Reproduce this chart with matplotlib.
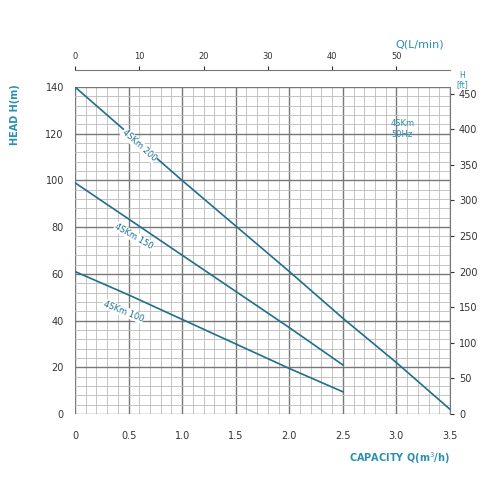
import numpy as np
import matplotlib.pyplot as plt

# flow in m3/h, head in m
q = [0, 0.5, 1.0, 1.5, 2.0, 2.5, 3.0, 3.5]
h200 = [140, 120, 100, 80.5, 61, 41, 22, 2]
q_short = [0, 0.5, 1.0, 1.5, 2.0, 2.5]
h150 = [99, 83.5, 68, 52.5, 37, 21]
h100 = [61, 51, 40.5, 30, 19.5, 9.5]
curve_labels = ["4SKm 200", "4SKm 150", "4SKm 100"]

blue = "#1f6f8b"
label_blue = "#2a8fb0"

fig = plt.figure(figsize=(5, 5), dpi=100)
ax = fig.add_axes([0.15, 0.172, 0.75, 0.654])
ax.set_xlim(0, 3.5)
ax.set_ylim(0, 140)

ax.set_xticks(np.arange(0, 3.51, 0.5))
ax.set_xticklabels(["0", "0.5", "1.0", "1.5", "2.0", "2.5", "3.0", "3.5"])
ax.set_yticks(np.arange(0, 141, 20))
ax.set_xticks(np.arange(0, 3.51, 0.1), minor=True)
ax.set_yticks(np.arange(0, 141, 4), minor=True)
ax.grid(which="major", color="#777777", lw=1.0)
ax.grid(which="minor", color="#bbbbbb", lw=0.6)
for s in ax.spines.values():
    s.set_visible(False)
ax.tick_params(which="both", length=0, labelsize=7, colors="#333333", pad=12)
ax.tick_params(axis="y", pad=8)
ax.set_axisbelow(True)

ax.plot(q, h200, color=blue, lw=1.2)
ax.plot(q_short, h150, color=blue, lw=1.2)
ax.plot(q_short, h100, color=blue, lw=1.2)

for (x, y, rot), t in zip([(0.6, 115, -42), (0.55, 76, -30), (0.45, 44, -22)], curve_labels):
    ax.text(x, y, t, rotation=rot, fontsize=6, color=blue, ha="center", va="center",
            bbox=dict(fc="white", ec="none", pad=0.5))
ax.text(2.95, 122, "4SKm\n50Hz", fontsize=6, color=label_blue, va="center")

# top axis: L/min
top = ax.secondary_xaxis("top", functions=(lambda x: x * 1000 / 60, lambda x: x * 60 / 1000))
top.spines["top"].set_position(("outward", 12))
top.spines["top"].set_color("#777777")
top.set_xticks(np.arange(0, 51, 10))
top.tick_params(labelsize=6, colors="#333333", length=3)
fig.text(0.84, 0.905, "Q(L/min)", fontsize=8, color=label_blue, ha="center")

# right axis: ft
right = ax.secondary_yaxis("right", functions=(lambda y: y * 3.281, lambda y: y / 3.281))
right.spines["right"].set_color("#777777")
right.set_yticks(np.arange(0, 451, 50))
right.tick_params(labelsize=7, colors="#333333", length=3)
fig.text(0.925, 0.84, "H\n[ft]", fontsize=5.5, color=label_blue, ha="center", va="center", linespacing=0.9)

fig.text(0.03, 0.77, "HEAD H(m)", rotation=90, fontsize=7, color=label_blue, ha="center", va="center", fontweight="bold")
fig.text(0.9, 0.075, "CAPACITY Q(m$^3$/h)", fontsize=7, color=label_blue, ha="right", fontweight="bold")

fig.savefig("out.png", dpi=100, facecolor="white")
